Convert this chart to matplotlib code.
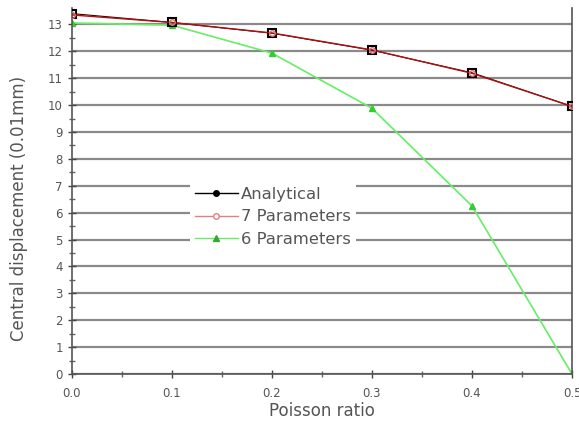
import matplotlib
matplotlib.use('Agg')
import matplotlib.pyplot as plt
from matplotlib.lines import Line2D

plt.rcParams['font.family'] = ['DejaVu Sans']

# Data
poisson = [0.0, 0.1, 0.2, 0.3, 0.4, 0.5]
analytical = [13.4, 13.07, 12.67, 12.04, 11.2, 9.95]
seven_params = [13.35, 13.07, 12.68, 12.05, 11.18, 9.95]
six_params = [13.05, 12.97, 11.93, 9.88, 6.25, 0.0]

fig = plt.figure(figsize=(5.79, 4.32), dpi=100)
ax = fig.add_axes([0.124, 0.134, 0.864, 0.847])

# horizontal grid lines
for yv in range(0, 14):
    ax.axhline(yv, color='#8a8a8a', lw=1.6, zorder=0)

ax.plot(poisson, seven_params, color='#b01010', lw=1.0, marker='o', ms=4,
        mfc='none', mec='#e07070', zorder=4)
ax.plot(poisson, analytical, color='#300000', lw=0.8, marker='s', ms=5.5,
        mfc='none', mec='black', mew=1.5, zorder=3)
ax.plot(poisson, six_params, color='#66ee66', lw=1.2, marker='^', ms=5,
        mfc='#33cc33', mec='#33cc33', zorder=2)

ax.set_xlim(0, 0.5)
ax.set_ylim(0, 13.6)
ax.set_xticks([0.0, 0.1, 0.2, 0.3, 0.4, 0.5])
ax.set_xticklabels(['0.0', '0.1', '0.2', '0.3', '0.4', '0.5'])
ax.set_xticks([0.05, 0.15, 0.25, 0.35, 0.45], minor=True)
ax.set_yticks(range(0, 14))
ax.set_yticks([v + 0.5 for v in range(0, 13)], minor=True)
ax.tick_params(which='major', direction='inout', length=6, width=1,
               labelsize=8.5, colors='#444444', labelcolor='#555555')
ax.tick_params(which='minor', direction='inout', length=4, width=1,
               colors='#666666')
ax.tick_params(axis='x', pad=6)

ax.spines['top'].set_visible(False)
for s in ['left', 'right', 'bottom']:
    ax.spines[s].set_color('#555555')
    ax.spines[s].set_linewidth(1.2)

ax.set_xlabel('Poisson ratio', fontsize=12, color='#555555')
ax.set_ylabel('Central displacement (0.01mm)', fontsize=12, color='#555555')
ax.xaxis.set_label_coords(0.5, -0.075)
ax.yaxis.set_label_coords(-0.088, 0.454)

handles = [
    Line2D([], [], color='black', lw=1, marker='o', ms=4, mfc='black'),
    Line2D([], [], color='#e08080', lw=1, marker='o', ms=4, mfc='white',
           mec='#e08080'),
    Line2D([], [], color='#66ee66', lw=1, marker='^', ms=4, mfc='#33aa33',
           mec='#33aa33'),
]
leg = ax.legend(handles, ['Analytical', '7 Parameters', '6 Parameters'],
                loc='center left', bbox_to_anchor=(0.22, 0.43), fontsize=11.8,
                frameon=True, facecolor='white', edgecolor='none',
                framealpha=1, handlelength=2.6, handletextpad=0.2,
                labelspacing=0.45, borderpad=0.3)
for t in leg.get_texts():
    t.set_color('#555555')
leg.set_zorder(5)

fig.savefig('out.png', dpi=100)
